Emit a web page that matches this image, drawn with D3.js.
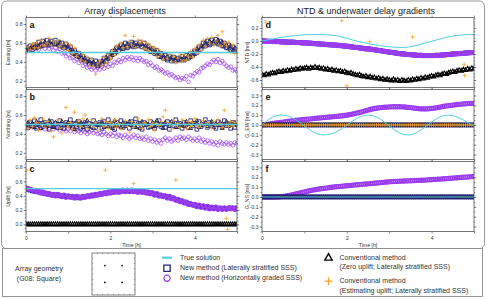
<!DOCTYPE html>
<html><head><meta charset="utf-8">
<script src="https://cdn.jsdelivr.net/npm/d3@7"></script>
<style>body{margin:0;background:#fff}svg{display:block;font-family:"Liberation Sans",Arial,sans-serif}</style>
</head><body>
<svg id="chart" width="488" height="299"></svg>
<script>
// ---------------- DATA ----------------
const time = [0,0.05,0.1,0.15,0.2,0.25,0.3,0.35,0.4,0.45,
0.5,0.55,0.6,0.65,0.7,0.75,0.8,0.85,0.9,0.95,
1,1.05,1.1,1.15,1.2,1.25,1.3,1.35,1.4,1.45,
1.5,1.55,1.6,1.65,1.7,1.75,1.8,1.85,1.9,1.95,
2,2.05,2.1,2.15,2.2,2.25,2.3,2.35,2.4,2.45,
2.5,2.55,2.6,2.65,2.7,2.75,2.8,2.85,2.9,2.95,
3,3.05,3.1,3.15,3.2,3.25,3.3,3.35,3.4,3.45,
3.5,3.55,3.6,3.65,3.7,3.75,3.8,3.85,3.9,3.95,
4,4.05,4.1,4.15,4.2,4.25,4.3,4.35,4.4,4.45,
4.5,4.55,4.6,4.65,4.7,4.75,4.8,4.85,4.9,4.95,
5];
const zeroSeries = [0,0,0,0,0,0,0,0,0,0, 0,0,0,0,0,0,0,0,0,0, 0,0,0,0,0,0,0,0,0,0,
0,0,0,0,0,0,0,0,0,0, 0,0,0,0,0,0,0,0,0,0, 0,0,0,0,0,0,0,0,0,0, 0,0,0,0,0,0,0,0,0,0,
0,0,0,0,0,0,0,0,0,0, 0,0,0,0,0,0,0,0,0,0, 0,0,0,0,0,0,0,0,0,0, 0];

const xTicksHours = [0,1,2,3,4,5];
const xTickLabels = [0,2,4];

// True solutions
const timeConst = [0,5];
const eastTrue = [0.5,0.5];
const northTrue = [0.5,0.5];
const upTrue = [0.5,0.5];
const timeTrue = [0,0.25,0.5,0.75,1,1.25,1.5,1.75,2,2.25,2.5,2.75,3,3.25,3.5,3.75,4,4.25,4.5,4.75,5];
const ntdTrue = [0,0.03,0.06,0.08,0.095,0.1,0.095,0.08,0.04,-0.005,-0.04,-0.07,-0.09,-0.1,-0.09,-0.05,-0.005,0.04,0.075,0.095,0.1];
const gewTrue = [0,0.08,0.1,0.065,-0.01,-0.08,-0.1,-0.07,0,0.07,0.1,0.07,-0.01,-0.08,-0.1,-0.05,0.03,0.09,0.095,0.05,-0.01];
const gnsTrue = [0,0];

// (a) Easting
const eastNewLat = [0.55,0.52,0.57,0.53,0.58,0.55,0.61,0.57,0.62,0.58,
0.63,0.58,0.62,0.59,0.63,0.61,0.57,0.6,0.55,0.59,
0.54,0.56,0.5,0.52,0.47,0.49,0.44,0.46,0.41,0.43,
0.38,0.42,0.37,0.41,0.36,0.4,0.38,0.44,0.41,0.47,
0.45,0.51,0.49,0.55,0.52,0.58,0.54,0.6,0.55,0.59,
0.61,0.56,0.6,0.57,0.61,0.56,0.6,0.54,0.57,0.51,
0.54,0.49,0.52,0.46,0.49,0.44,0.47,0.42,0.46,0.41,
0.45,0.41,0.44,0.42,0.46,0.42,0.47,0.44,0.49,0.47,
0.52,0.5,0.56,0.54,0.6,0.57,0.62,0.58,0.63,0.6,
0.64,0.59,0.62,0.57,0.6,0.55,0.58,0.53,0.56,0.51,
0.53];
const eastConvZero = [0.52,0.55,0.54,0.57,0.55,0.59,0.56,0.6,0.57,0.61,
0.59,0.62,0.58,0.61,0.59,0.58,0.61,0.56,0.58,0.55,
0.57,0.52,0.53,0.48,0.5,0.45,0.47,0.42,0.44,0.4,
0.41,0.38,0.4,0.37,0.39,0.37,0.41,0.4,0.45,0.43,
0.49,0.47,0.53,0.5,0.56,0.54,0.58,0.55,0.59,0.56,
0.57,0.6,0.56,0.59,0.58,0.59,0.55,0.58,0.53,0.55,
0.5,0.53,0.48,0.5,0.45,0.47,0.43,0.46,0.43,0.45,
0.41,0.44,0.42,0.45,0.42,0.45,0.43,0.47,0.45,0.5,
0.48,0.54,0.52,0.57,0.56,0.61,0.58,0.62,0.59,0.62,
0.6,0.63,0.58,0.61,0.56,0.58,0.54,0.57,0.52,0.55,
0.51];
const eastConvEst = [0.5,0.56,0.53,0.59,0.55,0.6,0.55,0.63,0.58,0.57,
0.6,0.65,0.57,0.62,0.6,0.63,0.56,0.59,0.54,0.6,
0.52,0.58,0.49,0.55,0.46,0.5,0.42,0.48,0.4,0.45,
0.36,0.43,0.35,0.27,0.38,0.41,0.36,0.45,0.39,0.48,
0.44,0.52,0.47,0.57,0.5,0.6,0.55,0.68,0.56,0.62,
0.58,0.67,0.55,0.63,0.6,0.62,0.54,0.6,0.52,0.57,
0.5,0.55,0.46,0.53,0.48,0.42,0.5,0.44,0.48,0.4,
0.46,0.39,0.44,0.47,0.41,0.48,0.42,0.46,0.51,0.45,
0.54,0.49,0.58,0.52,0.63,0.56,0.65,0.6,0.66,0.58,
0.62,0.68,0.57,0.72,0.6,0.57,0.61,0.5,0.58,0.49,
0.54];
const eastNewGrad = [0.52,0.55,0.53,0.56,0.54,0.57,0.53,0.56,0.58,0.54,
0.57,0.54,0.56,0.52,0.55,0.51,0.54,0.49,0.5,0.46,
0.48,0.44,0.45,0.41,0.43,0.39,0.41,0.36,0.38,0.34,
0.35,0.32,0.34,0.31,0.34,0.32,0.35,0.33,0.37,0.35,
0.38,0.36,0.4,0.39,0.42,0.4,0.44,0.42,0.45,0.43,
0.45,0.42,0.44,0.41,0.44,0.42,0.4,0.41,0.37,0.39,
0.36,0.34,0.35,0.31,0.32,0.3,0.28,0.29,0.26,0.27,
0.25,0.23,0.24,0.21,0.23,0.22,0.25,0.19,0.26,0.25,
0.28,0.3,0.29,0.33,0.34,0.36,0.38,0.37,0.4,0.42,
0.4,0.43,0.39,0.41,0.38,0.36,0.34,0.35,0.31,0.32,
0.3];

// (b) Northing
const northNewLat = [0.5,0.47,0.52,0.49,0.54,0.46,0.51,0.55,0.48,0.52,
0.5,0.45,0.53,0.49,0.51,0.47,0.54,0.5,0.46,0.52,
0.49,0.55,0.47,0.51,0.48,0.53,0.46,0.5,0.52,0.45,
0.51,0.48,0.54,0.47,0.5,0.52,0.46,0.53,0.49,0.55,
0.48,0.5,0.45,0.52,0.49,0.54,0.47,0.51,0.5,0.46,
0.53,0.48,0.56,0.49,0.51,0.45,0.52,0.5,0.47,0.53,
0.49,0.46,0.51,0.54,0.48,0.5,0.47,0.53,0.45,0.52,
0.49,0.55,0.48,0.51,0.46,0.52,0.5,0.47,0.54,0.49,
0.51,0.45,0.53,0.48,0.5,0.55,0.47,0.52,0.49,0.51,
0.46,0.53,0.5,0.48,0.54,0.49,0.51,0.46,0.52,0.47,
0.5];
const northConvZero = [0.49,0.52,0.48,0.51,0.47,0.53,0.5,0.46,0.52,0.49,
0.48,0.54,0.5,0.47,0.52,0.51,0.46,0.53,0.49,0.5,
0.52,0.48,0.51,0.45,0.53,0.49,0.52,0.47,0.5,0.54,
0.48,0.51,0.46,0.52,0.49,0.5,0.53,0.47,0.51,0.48,
0.52,0.46,0.54,0.49,0.51,0.47,0.52,0.48,0.5,0.53,
0.49,0.51,0.47,0.52,0.46,0.53,0.49,0.51,0.5,0.47,
0.52,0.48,0.54,0.49,0.51,0.46,0.52,0.5,0.48,0.53,
0.51,0.47,0.52,0.49,0.5,0.48,0.53,0.51,0.46,0.52,
0.5,0.54,0.47,0.51,0.49,0.52,0.48,0.5,0.53,0.47,
0.51,0.49,0.52,0.46,0.5,0.53,0.48,0.51,0.5,0.52,
0.49];
const northConvEst = [0.5,0.46,0.55,0.48,0.57,0.52,0.44,0.5,0.56,0.47,
0.53,0.49,0.43,0.37,0.51,0.55,0.46,0.41,0.5,0.68,
0.47,0.52,0.45,0.63,0.5,0.54,0.48,0.56,0.6,0.46,
0.51,0.55,0.47,0.52,0.44,0.5,0.56,0.48,0.53,0.46,
0.52,0.49,0.55,0.47,0.51,0.45,0.5,0.54,0.48,0.42,
0.53,0.47,0.51,0.56,0.49,0.46,0.52,0.5,0.55,0.48,
0.51,0.44,0.5,0.49,0.53,0.58,0.65,0.52,0.5,0.45,
0.54,0.49,0.51,0.47,0.55,0.5,0.46,0.53,0.48,0.52,
0.56,0.49,0.47,0.51,0.54,0.48,0.52,0.5,0.46,0.53,
0.49,0.55,0.51,0.47,0.65,0.5,0.48,0.53,0.49,0.52,
0.5];
const northNewGrad = [0.48,0.46,0.49,0.47,0.5,0.47,0.49,0.46,0.48,0.45,
0.48,0.46,0.49,0.45,0.47,0.46,0.44,0.47,0.45,0.43,
0.45,0.43,0.46,0.42,0.44,0.43,0.41,0.44,0.42,0.4,
0.42,0.44,0.41,0.43,0.4,0.41,0.39,0.42,0.4,0.38,
0.4,0.38,0.41,0.37,0.39,0.38,0.36,0.39,0.37,0.35,
0.37,0.39,0.36,0.38,0.35,0.36,0.34,0.37,0.33,0.35,
0.32,0.34,0.31,0.33,0.3,0.34,0.36,0.33,0.35,0.32,
0.34,0.36,0.33,0.37,0.35,0.36,0.34,0.37,0.35,0.33,
0.35,0.33,0.36,0.32,0.34,0.31,0.33,0.3,0.32,0.29,
0.31,0.28,0.32,0.3,0.29,0.31,0.29,0.3,0.28,0.31,
0.3];

// (c) Uplift
const upNewLat = [0.5,0.49,0.48,0.47,0.47,0.46,0.45,0.45,0.44,0.43,
0.43,0.42,0.42,0.41,0.41,0.41,0.4,0.4,0.4,0.39,
0.39,0.39,0.38,0.38,0.38,0.37,0.38,0.38,0.39,0.39,
0.4,0.4,0.41,0.41,0.42,0.42,0.43,0.43,0.44,0.44,
0.45,0.45,0.46,0.46,0.46,0.47,0.47,0.47,0.47,0.47,
0.47,0.47,0.46,0.46,0.46,0.46,0.45,0.45,0.44,0.44,
0.43,0.42,0.42,0.41,0.4,0.4,0.39,0.38,0.38,0.37,
0.36,0.35,0.34,0.33,0.32,0.31,0.3,0.29,0.28,0.28,
0.27,0.26,0.26,0.25,0.25,0.24,0.24,0.23,0.23,0.23,
0.23,0.22,0.22,0.22,0.22,0.22,0.22,0.23,0.22,0.22,
0.23];
const upNewGrad = [0.51,0.5,0.49,0.48,0.46,0.47,0.46,0.44,0.45,0.44,
0.42,0.43,0.41,0.42,0.4,0.42,0.41,0.39,0.41,0.38,
0.4,0.38,0.39,0.37,0.39,0.38,0.37,0.39,0.38,0.4,
0.39,0.41,0.4,0.42,0.41,0.43,0.42,0.44,0.43,0.45,
0.44,0.46,0.45,0.47,0.45,0.46,0.48,0.46,0.48,0.46,
0.48,0.46,0.47,0.45,0.47,0.45,0.46,0.44,0.45,0.43,
0.44,0.41,0.43,0.4,0.41,0.39,0.4,0.37,0.39,0.36,
0.37,0.34,0.35,0.32,0.33,0.3,0.31,0.28,0.29,0.27,
0.28,0.25,0.27,0.24,0.26,0.23,0.25,0.22,0.24,0.22,
0.24,0.21,0.23,0.21,0.23,0.21,0.23,0.22,0.23,0.21,
0.22];
const upConvEstTime = [0.02,1.88,2.55,3.55,4.75,4.78];
const upConvEst = [0.76,0.76,0.57,0.62,0.08,-0.07];

// (d) NTD
const ntdNew = [0,0,-0.005,-0.005,-0.005,-0.01,-0.01,-0.01,-0.01,-0.015,
-0.015,-0.015,-0.02,-0.02,-0.02,-0.02,-0.025,-0.025,-0.025,-0.03,
-0.03,-0.03,-0.035,-0.035,-0.04,-0.04,-0.045,-0.045,-0.05,-0.05,
-0.055,-0.055,-0.06,-0.06,-0.065,-0.065,-0.07,-0.07,-0.075,-0.08,
-0.08,-0.085,-0.09,-0.095,-0.1,-0.1,-0.105,-0.11,-0.115,-0.12,
-0.12,-0.125,-0.13,-0.135,-0.14,-0.145,-0.15,-0.155,-0.16,-0.165,
-0.17,-0.175,-0.18,-0.185,-0.19,-0.195,-0.2,-0.2,-0.205,-0.21,
-0.21,-0.215,-0.215,-0.22,-0.22,-0.22,-0.225,-0.225,-0.225,-0.225,
-0.225,-0.225,-0.22,-0.22,-0.22,-0.215,-0.215,-0.21,-0.21,-0.205,
-0.2,-0.2,-0.195,-0.195,-0.19,-0.19,-0.185,-0.185,-0.18,-0.18,
-0.175];
const ntdConvZero = [-0.52,-0.53,-0.51,-0.52,-0.5,-0.49,-0.5,-0.48,-0.47,-0.48,
-0.46,-0.47,-0.45,-0.46,-0.44,-0.45,-0.43,-0.44,-0.42,-0.43,
-0.42,-0.41,-0.43,-0.41,-0.42,-0.4,-0.42,-0.41,-0.43,-0.42,
-0.44,-0.43,-0.45,-0.44,-0.46,-0.45,-0.47,-0.46,-0.48,-0.47,
-0.49,-0.5,-0.49,-0.51,-0.52,-0.53,-0.52,-0.54,-0.55,-0.54,
-0.56,-0.55,-0.57,-0.56,-0.58,-0.57,-0.59,-0.58,-0.6,-0.59,
-0.6,-0.61,-0.59,-0.61,-0.6,-0.62,-0.6,-0.61,-0.62,-0.6,
-0.61,-0.59,-0.6,-0.58,-0.59,-0.57,-0.58,-0.56,-0.57,-0.55,
-0.54,-0.55,-0.53,-0.52,-0.53,-0.51,-0.5,-0.51,-0.49,-0.48,
-0.47,-0.48,-0.46,-0.45,-0.46,-0.44,-0.45,-0.43,-0.44,-0.42,
-0.43];
const ntdConvEstTime = [0.09,1.88,2.0,2.54,3.55,4.77,4.78];
const ntdConvEst = [0.29,0.31,-0.69,-0.01,0.06,-0.36,-0.53];

// (e) G_EW, (f) G_NS  (new method, horizontally graded)
const gewNewGrad = [0,0.003,0.006,0.009,0.012,0.015,0.018,0.021,0.024,0.027,
0.03,0.033,0.036,0.039,0.042,0.045,0.048,0.05,0.052,0.054,
0.056,0.058,0.06,0.062,0.065,0.067,0.069,0.071,0.073,0.075,
0.077,0.079,0.081,0.083,0.085,0.087,0.089,0.091,0.094,0.097,
0.1,0.104,0.108,0.112,0.117,0.122,0.127,0.133,0.139,0.145,
0.151,0.157,0.162,0.167,0.171,0.174,0.177,0.179,0.181,0.182,
0.183,0.184,0.185,0.185,0.185,0.185,0.184,0.183,0.181,0.179,
0.177,0.174,0.171,0.168,0.166,0.164,0.163,0.163,0.164,0.166,
0.168,0.171,0.174,0.178,0.182,0.186,0.19,0.193,0.196,0.199,
0.202,0.205,0.208,0.21,0.212,0.214,0.216,0.217,0.218,0.219,
0.22];
const gnsNewGrad = [0,0,0,0,0,0,0,0.001,0.002,0.004,
0.006,0.009,0.013,0.017,0.021,0.026,0.031,0.036,0.041,0.046,
0.051,0.056,0.061,0.066,0.07,0.074,0.078,0.081,0.084,0.087,
0.09,0.093,0.096,0.099,0.102,0.104,0.106,0.108,0.11,0.112,
0.114,0.116,0.118,0.12,0.122,0.124,0.126,0.128,0.13,0.132,
0.134,0.136,0.138,0.14,0.142,0.144,0.146,0.148,0.15,0.152,
0.154,0.156,0.157,0.158,0.159,0.16,0.161,0.162,0.163,0.164,
0.165,0.166,0.167,0.168,0.169,0.17,0.171,0.172,0.174,0.175,
0.176,0.178,0.179,0.181,0.182,0.184,0.185,0.187,0.188,0.19,
0.192,0.193,0.195,0.197,0.198,0.2,0.202,0.203,0.205,0.206,
0.208];

// Array geometry (G08: square), normalized units
const geomE = [-0.4,0.4,-0.4,0.4];
const geomN = [0.4,0.4,-0.4,-0.4];

// ---------------- DRAWING ----------------
const C = {cyan:"#4fd0e0", navy:"#23237e", purple:"#9b3cf0", black:"#000", orange:"#f7a531"};
const svg = d3.select("#chart");
const FONT = '"Liberation Sans", Arial, sans-serif';
const fmt = v => (Math.abs(v) < 1e-9 ? 0 : v).toFixed(1);

svg.append("rect").attr("x",1.5).attr("y",1).attr("width",483).attr("height",247.5).attr("rx",5)
  .attr("fill","none").attr("stroke","#8a8a8a").attr("stroke-width",0.9);

svg.append("text").attr("x",125).attr("y",14).attr("text-anchor","middle").attr("font-size",9).attr("fill","#222").text("Array displacements");
svg.append("text").attr("x",366).attr("y",14).attr("text-anchor","middle").attr("font-size",9).attr("fill","#222").text("NTD & underwater delay gradients");

const plusType = {draw(ctx,size){const r=Math.sqrt(size)/2; ctx.moveTo(-r,0);ctx.lineTo(r,0);ctx.moveTo(0,-r);ctx.lineTo(0,r);}};
const SYM = {
  sq:{type:d3.symbolSquare,size:14,stroke:C.navy,sw:0.9},
  ci:{type:d3.symbolCircle,size:11,stroke:C.purple,sw:0.7},
  ciBand:{type:d3.symbolCircle,size:12,stroke:C.purple,sw:1.4},
  sqBand:{type:d3.symbolSquare,size:12,stroke:"#3a2bb0",sw:1.3},
  tr:{type:d3.symbolTriangle,size:7,stroke:C.black,sw:0.8},
  trBand:{type:d3.symbolTriangle,size:8,stroke:C.black,sw:1.1},
  pl:{type:plusType,size:18,stroke:C.orange,sw:0.8}
};

function makePanel(cfg){
  const x = d3.scaleLinear().domain([0,5]).range([cfg.x0,cfg.x1]);
  const y = d3.scaleLinear().domain(cfg.dom).range([cfg.y1,cfg.y0]);
  const g = svg.append("g");
  g.append("clipPath").attr("id","cp"+cfg.key).append("rect")
    .attr("x",cfg.x0).attr("y",cfg.y0).attr("width",cfg.x1-cfg.x0).attr("height",cfg.y1-cfg.y0);
  const plot = g.append("g").attr("clip-path",`url(#cp${cfg.key})`);
  const ax = g.append("g");
  const minorVals = [];
  for(let k=Math.ceil(cfg.dom[0]/cfg.minor-1e-6); k*cfg.minor<=cfg.dom[1]+1e-9; k++) minorVals.push(+(k*cfg.minor).toFixed(4));
  ax.append("g").attr("transform",`translate(${cfg.x0},0)`).call(d3.axisLeft(y).tickValues(minorVals).tickSize(1.3).tickFormat(""));
  ax.append("g").attr("transform",`translate(${cfg.x1},0)`).call(d3.axisRight(y).tickValues(minorVals).tickSize(1.3).tickFormat(""));
  ax.append("g").attr("transform",`translate(${cfg.x0},0)`).call(d3.axisLeft(y).tickValues(cfg.ticks).tickSize(2.3).tickPadding(1.2).tickFormat(fmt));
  ax.append("g").attr("transform",`translate(${cfg.x1},0)`).call(d3.axisRight(y).tickValues(cfg.ticks).tickSize(2.3).tickFormat(""));
  ax.append("g").attr("transform",`translate(0,${cfg.y0})`).call(d3.axisTop(x).tickValues(xTicksHours).tickSize(2).tickFormat(""));
  ax.append("g").attr("transform",`translate(0,${cfg.y1})`).call(d3.axisBottom(x).tickValues(xTicksHours).tickSize(2).tickPadding(2.5)
     .tickFormat(v => cfg.bottom && xTickLabels.includes(v) ? String(v) : ""));
  ax.selectAll(".domain").remove();
  ax.selectAll("line").attr("stroke","#444").attr("stroke-width",0.6);
  ax.selectAll("text").attr("font-size",5).attr("fill","#333").attr("font-family",FONT);
  g.append("rect").attr("x",cfg.x0).attr("y",cfg.y0).attr("width",cfg.x1-cfg.x0).attr("height",cfg.y1-cfg.y0)
    .attr("fill","none").attr("stroke","#555").attr("stroke-width",0.8);
  g.append("text").attr("transform",`translate(${cfg.lx},${(cfg.y0+cfg.y1)/2}) rotate(-90)`).attr("text-anchor","middle")
    .attr("dominant-baseline","middle").attr("font-size",5.2).attr("fill","#333").text(cfg.label);
  g.append("text").attr("x",cfg.x0+3.5).attr("y",cfg.y0+10).attr("font-size",9).attr("font-weight","bold").attr("fill","#111").text(cfg.key);
  if(cfg.bottom){
    g.append("text").attr("x",(cfg.x0+cfg.x1)/2).attr("y",247).attr("text-anchor","middle").attr("font-size",5.2).attr("fill","#333").text("Time [h]");
  }
  return {x,y,plot};
}

function markers(p, ts, vs, s){
  p.plot.append("g").selectAll("path").data(ts.map((t,i)=>[t,vs[i]])).join("path")
    .attr("transform",d=>`translate(${p.x(d[0])},${p.y(d[1])})`)
    .attr("d",d3.symbol().type(s.type).size(s.size))
    .attr("fill","none").attr("stroke",s.stroke).attr("stroke-width",s.sw);
}
function line(p, ts, vs, w, curve){
  p.plot.append("path").datum(ts.map((t,i)=>[t,vs[i]]))
    .attr("d",d3.line().x(d=>p.x(d[0])).y(d=>p.y(d[1])).curve(curve||d3.curveLinear))
    .attr("fill","none").attr("stroke",C.cyan).attr("stroke-width",w);
}

const LX={x0:26,x1:237}, RX={x0:262,x1:474};
const rows=[{y0:17.5,y1:87.5},{y0:89.5,y1:159.5},{y0:161.5,y1:231.5}];

const pa = makePanel({key:"a",...LX,...rows[0],dom:[0.13,0.87],ticks:[0.2,0.4,0.6,0.8],minor:0.05,label:"Easting [m]",lx:9});
markers(pa,time,eastNewGrad,SYM.ci);
markers(pa,time,eastConvZero,SYM.tr);
markers(pa,time,eastNewLat,SYM.sq);
markers(pa,time,eastConvEst,SYM.pl);
line(pa,timeConst,eastTrue,1.6);

const pb = makePanel({key:"b",...LX,...rows[1],dom:[0.13,0.87],ticks:[0.2,0.4,0.6,0.8],minor:0.05,label:"Northing [m]",lx:9});
markers(pb,time,northNewGrad,SYM.ci);
markers(pb,time,northConvZero,SYM.tr);
markers(pb,time,northNewLat,SYM.sq);
markers(pb,time,northConvEst,SYM.pl);
line(pb,timeConst,northTrue,1.6);

const pc = makePanel({key:"c",...LX,...rows[2],dom:[-0.1,0.88],ticks:[0,0.2,0.4,0.6,0.8],minor:0.05,label:"Uplift [m]",lx:9,bottom:true});
markers(pc,time,zeroSeries,SYM.trBand);
markers(pc,time,upNewLat,SYM.sqBand);
markers(pc,time,upNewGrad,SYM.ciBand);
markers(pc,upConvEstTime,upConvEst,SYM.pl);
line(pc,timeConst,upTrue,1.4);

const pd = makePanel({key:"d",...RX,...rows[0],dom:[-0.715,0.36],ticks:[-0.6,-0.4,-0.2,0,0.2],minor:0.05,label:"NTD [ms]",lx:248});
markers(pd,time,ntdNew,SYM.sqBand);
markers(pd,time,ntdNew,SYM.ciBand);
markers(pd,time,ntdConvZero,SYM.trBand);
markers(pd,ntdConvEstTime,ntdConvEst,SYM.pl);
line(pd,timeTrue,ntdTrue,1,d3.curveNatural);

const pe = makePanel({key:"e",...RX,...rows[1],dom:[-0.35,0.36],ticks:[-0.3,-0.2,-0.1,0,0.1,0.2,0.3],minor:0.05,label:"G_EW [ms]",lx:248});
markers(pe,time,gewNewGrad,SYM.ciBand);
markers(pe,time,zeroSeries,SYM.sq);
markers(pe,time,zeroSeries,SYM.tr);
markers(pe,time,zeroSeries,SYM.pl);
line(pe,timeTrue,gewTrue,1,d3.curveNatural);

const pf = makePanel({key:"f",...RX,...rows[2],dom:[-0.35,0.36],ticks:[-0.3,-0.2,-0.1,0,0.1,0.2,0.3],minor:0.05,label:"G_NS [ms]",lx:248,bottom:true});
markers(pf,time,gnsNewGrad,SYM.ciBand);
markers(pf,time,zeroSeries,SYM.pl);
markers(pf,time,zeroSeries,SYM.tr);
markers(pf,time,zeroSeries,SYM.sq);
line(pf,timeConst,gnsTrue,1);

// ---------------- LEGEND ----------------
const LF = 7;
const lg = svg.append("g").attr("font-family",FONT);
lg.append("rect").attr("x",2.5).attr("y",248.5).attr("width",480).attr("height",48).attr("fill","#fff").attr("stroke","#8a8a8a").attr("stroke-width",0.9);
lg.append("text").attr("x",39).attr("y",269.5).attr("text-anchor","middle").attr("dominant-baseline","middle").attr("font-size",LF).attr("fill","#333").text("Array geometry");
lg.append("text").attr("x",39).attr("y",279.5).attr("text-anchor","middle").attr("dominant-baseline","middle").attr("font-size",LF).attr("fill","#333").text("(G08: Square)");
const gx = d3.scaleLinear().domain([-1,1]).range([92,135]);
const gy = d3.scaleLinear().domain([-1,1]).range([295,253]);
lg.append("rect").attr("x",gx(-1)).attr("y",gy(1)).attr("width",gx(1)-gx(-1)).attr("height",gy(-1)-gy(1)).attr("fill","none").attr("stroke","#333").attr("stroke-width",0.6);
const gt=[-0.75,-0.5,-0.25,0,0.25,0.5,0.75];
lg.append("g").selectAll("line").data(gt).join("line").attr("x1",d=>gx(d)).attr("x2",d=>gx(d)).attr("y1",gy(-1)).attr("y2",gy(-1)-1.2).attr("stroke","#333").attr("stroke-width",0.4);
lg.append("g").selectAll("line").data(gt).join("line").attr("x1",d=>gx(d)).attr("x2",d=>gx(d)).attr("y1",gy(1)).attr("y2",gy(1)+1.2).attr("stroke","#333").attr("stroke-width",0.4);
lg.append("g").selectAll("line").data(gt).join("line").attr("y1",d=>gy(d)).attr("y2",d=>gy(d)).attr("x1",gx(-1)).attr("x2",gx(-1)+1.2).attr("stroke","#333").attr("stroke-width",0.4);
lg.append("g").selectAll("line").data(gt).join("line").attr("y1",d=>gy(d)).attr("y2",d=>gy(d)).attr("x1",gx(1)).attr("x2",gx(1)-1.2).attr("stroke","#333").attr("stroke-width",0.4);
lg.append("g").selectAll("circle").data(geomE.map((e,i)=>[e,geomN[i]])).join("circle")
  .attr("cx",d=>gx(d[0])).attr("cy",d=>gy(d[1])).attr("r",0.9).attr("fill","#111");

const items = [
  {kind:"line",x:167,y:257.7,lines:["True solution"],tx:180},
  {kind:"sq",x:167,y:268.3,lines:["New method (Laterally stratified SSS)"],tx:180},
  {kind:"ci",x:167,y:278.3,lines:["New method (Horizontally graded SSS)"],tx:180},
  {kind:"tr",x:328.5,y:258,lines:["Conventional method","(Zero uplift; Laterally stratified SSS)"],tx:339.5},
  {kind:"pl",x:328.5,y:281.2,lines:["Conventional method","(Estimating uplift; Laterally stratified SSS)"],tx:339.5}
];
items.forEach(it=>{
  if(it.kind==="line"){
    lg.append("line").attr("x1",it.x-5).attr("x2",it.x+5).attr("y1",it.y).attr("y2",it.y).attr("stroke",C.cyan).attr("stroke-width",2.2);
  } else {
    const big = {sq:{type:d3.symbolSquare,size:40,stroke:C.navy,sw:1.3},ci:{type:d3.symbolCircle,size:30,stroke:C.purple,sw:1.2},
                 tr:{type:d3.symbolTriangle,size:24,stroke:C.black,sw:1.4},pl:{type:plusType,size:64,stroke:C.orange,sw:1.2}}[it.kind];
    lg.append("path").attr("transform",`translate(${it.x},${it.y})`).attr("d",d3.symbol().type(big.type).size(big.size))
      .attr("fill","none").attr("stroke",big.stroke).attr("stroke-width",big.sw);
  }
  it.lines.forEach((t,j)=>{
    lg.append("text").attr("x",it.tx).attr("y",it.y+j*9.6).attr("dominant-baseline","middle").attr("font-size",LF).attr("fill","#333").text(t);
  });
});
</script>
</body></html>
